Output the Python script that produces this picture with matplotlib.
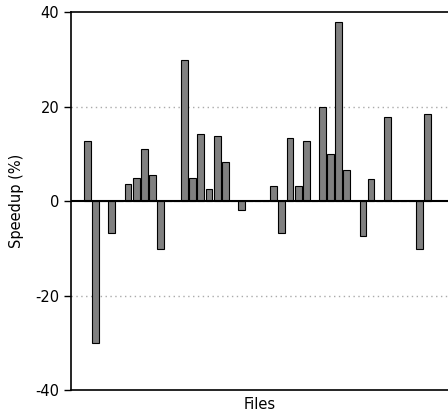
import matplotlib
matplotlib.use('Agg')
import matplotlib.pyplot as plt
import numpy as np

plt.rcParams['axes.unicode_minus'] = False

# speedup per file (%), one entry per file slot
speedup = [12.7, -30.1, 0, -6.8, 0, 3.7, 4.9, 11.1, 5.5, -10.1,
           0, 0, 29.8, 4.9, 14.2, 2.5, 13.7, 8.3, 0, -1.9,
           0, 0, 0, 3.3, -6.8, 13.3, 3.3, 12.8, 0, 20.0,
           9.9, 37.9, 6.6, 0, -7.4, 4.7, 0, 17.8, 0, 0,
           0, -10.1, 18.4]
yticks = [-40, -20, 0, 20, 40]

fig = plt.figure(figsize=(4.48, 4.13), dpi=100)
ax = fig.add_axes([0.1585, 0.0557, 0.8415, 0.9145])

x = np.arange(len(speedup))
ax.bar(x, speedup, width=0.85, color='#808080', edgecolor='black', linewidth=0.8, zorder=3)
ax.axhline(0, color='black', linewidth=1.5, zorder=4)
for g in (-20, 20):
    ax.axhline(g, color='#aaaaaa', linewidth=1, linestyle=(0, (1, 2.5)), zorder=1)

ax.set_xlim(-2.04, 44.5)
ax.set_ylim(-40, 40)
ax.set_yticks(yticks)
ax.set_yticklabels([str(t) for t in yticks])
ax.set_xticks([])
ax.spines['right'].set_visible(False)
for s in ('left', 'top', 'bottom'):
    ax.spines[s].set_linewidth(1.2)
ax.tick_params(axis='y', labelsize=10.5, length=5, width=1)
ax.set_ylabel('Speedup (%)', fontsize=10.5, labelpad=8)
ax.set_xlabel('Files', fontsize=10.5, labelpad=5)

fig.savefig('out.png', dpi=100)
